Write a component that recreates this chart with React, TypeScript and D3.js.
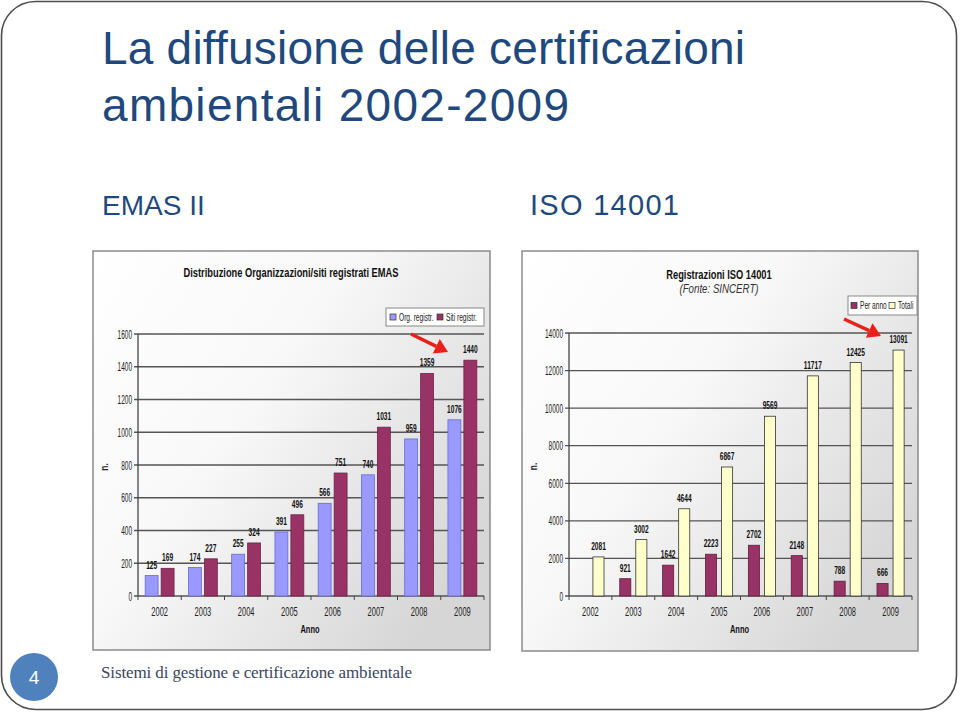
import React from 'react';
import * as d3 from 'd3';

const years = ['2002', '2003', '2004', '2005', '2006', '2007', '2008', '2009'];
const emasOrg = [125, 174, 255, 391, 566, 740, 959, 1076];
const emasSiti = [169, 227, 324, 496, 751, 1031, 1359, 1440];
const emasTicks = [0, 200, 400, 600, 800, 1000, 1200, 1400, 1600];
const isoPerAnno: (number | null)[] = [null, 921, 1642, 2223, 2702, 2148, 788, 666];
const isoTotali = [2081, 3002, 4644, 6867, 9569, 11717, 12425, 13091];
const isoTicks = [0, 2000, 4000, 6000, 8000, 10000, 12000, 14000];

const SANS = "'Liberation Sans',Arial,Helvetica,sans-serif";

type NTProps = {
  x: number; y: number; sx: number; size: number; weight?: string; italic?: boolean;
  anchor?: 'start' | 'middle' | 'end'; fill?: string; rotate?: number; children: React.ReactNode;
};
function NT({ x, y, sx, size, weight, italic, anchor = 'start', fill = '#1a1a1a', rotate = 0, children }: NTProps) {
  return (
    <text
      transform={`translate(${x},${y}) rotate(${rotate}) scale(${sx},1)`}
      fontFamily={SANS} fontSize={size} fontWeight={weight || 'normal'} fontStyle={italic ? 'italic' : 'normal'}
      textAnchor={anchor} fill={fill}
    >{children}</text>
  );
}

type Series = { name: string; values: (number | null)[]; fill: string; stroke: string };

type ChartProps = {
  id: string;
  frame: { x: number; y: number; w: number; h: number };
  x0: number; x1: number; yBottom: number; yTop: number;
  max: number; ticks: number[];
  series: Series[];
  padInner: number; padOuter: number;
  title: string; titleY: number; subtitle?: string; titleX: number;
  legend: { x: number; y: number; w: number; h: number; items: { name: string; fill: string; dx: number }[] };
  arrow: [number, number, number, number];
};

function Chart(p: ChartProps) {
  const x = d3.scaleBand<string>().domain(years).range([p.x0, p.x1]).paddingInner(0).paddingOuter(0);
  const xs = d3.scaleBand<string>().domain(p.series.map(s => s.name)).range([0, x.bandwidth()]).paddingInner(p.padInner).paddingOuter(p.padOuter);
  const y = d3.scaleLinear().domain([0, p.max]).range([p.yBottom, p.yTop]);
  const f = p.frame;
  const [ax1, ay1, ax2, ay2] = p.arrow;
  const ang = Math.atan2(ay2 - ay1, ax2 - ax1);
  const hl = 13, hw = 8;
  const bx = ax2 - hl * Math.cos(ang), by = ay2 - hl * Math.sin(ang);
  const head = `M${ax2},${ay2} L${bx + hw * Math.sin(ang)},${by - hw * Math.cos(ang)} L${bx - hw * Math.sin(ang)},${by + hw * Math.cos(ang)} Z`;
  return (
    <g>
      <defs>
        <linearGradient id={p.id + 'bg'} x1="0" y1="0" x2="1" y2="0.7">
          <stop offset="0" stopColor="#ffffff" />
          <stop offset="0.45" stopColor="#f8f8f8" />
          <stop offset="1" stopColor="#d6d6d6" />
        </linearGradient>
      </defs>
      <rect x={f.x} y={f.y} width={f.w} height={f.h} fill={`url(#${p.id}bg)`} stroke="#8a8a8a" strokeWidth={1.5} />
      <NT x={p.titleX} y={p.titleY} sx={0.69} size={13.5} weight="bold" anchor="middle" fill="#111">{p.title}</NT>
      {p.subtitle && (
        <NT x={p.titleX} y={p.titleY + 14} sx={0.72} size={13.5} italic anchor="middle" fill="#333">{p.subtitle}</NT>
      )}
      {/* gridlines */}
      {p.ticks.map(t => (
        <g key={t}>
          <line x1={p.x0 - 4} x2={p.x1} y1={y(t)} y2={y(t)} stroke="#555" strokeWidth={1.3} />
          <NT x={p.x0 - 6} y={y(t) + 4.5} sx={0.54} size={12} anchor="end" fill="#222">{t}</NT>
        </g>
      ))}
      <line x1={p.x0} x2={p.x0} y1={p.yTop} y2={p.yBottom} stroke="#444" strokeWidth={1.3} />
      {years.map(yr => (
        <line key={'tk' + yr} x1={x(yr)!} x2={x(yr)!} y1={p.yBottom} y2={p.yBottom + 4} stroke="#444" strokeWidth={1} />
      ))}
      <line x1={p.x1} x2={p.x1} y1={p.yBottom} y2={p.yBottom + 4} stroke="#444" strokeWidth={1} />
      {/* bars */}
      {years.map((yr, i) => (
        <g key={yr}>
          {p.series.map(s => {
            const v = s.values[i];
            if (v == null) return null;
            const bx0 = x(yr)! + xs(s.name)!;
            return (
              <g key={s.name}>
                <rect x={bx0} y={y(v)} width={xs.bandwidth()} height={y(0) - y(v)} fill={s.fill} stroke={s.stroke} strokeWidth={0.8} />
                <NT x={bx0 + xs.bandwidth() / 2} y={y(v) - 7} sx={0.6} size={11} weight="bold" anchor="middle" fill="#111">{v}</NT>
              </g>
            );
          })}
          <NT x={x(yr)! + x.bandwidth() / 2} y={p.yBottom + 20} sx={0.6} size={12.5} anchor="middle" fill="#222">{yr}</NT>
        </g>
      ))}
      <NT x={f.x + 15} y={(p.yTop + p.yBottom) / 2 + 2} sx={0.8} size={10.5} weight="bold" anchor="middle" rotate={-90} fill="#222">n.</NT>
      <NT x={(p.x0 + p.x1) / 2 - 1} y={p.yBottom + 37} sx={0.68} size={11} weight="bold" anchor="middle" fill="#111">Anno</NT>
      {/* legend */}
      <rect x={p.legend.x} y={p.legend.y} width={p.legend.w} height={p.legend.h} fill="#ffffff" stroke="#888" strokeWidth={1} />
      {p.legend.items.map(it => (
        <g key={it.name}>
          <rect x={p.legend.x + it.dx} y={p.legend.y + p.legend.h / 2 - 3} width={6} height={6} fill={it.fill} stroke="#333" strokeWidth={0.7} />
          <NT x={p.legend.x + it.dx + 9} y={p.legend.y + p.legend.h / 2 + 3.5} sx={0.66} size={10} fill="#222">{it.name}</NT>
        </g>
      ))}
      {/* red arrow */}
      <line x1={ax1} y1={ay1} x2={bx} y2={by} stroke="#e8211b" strokeWidth={3.5} />
      <path d={head} fill="#e8211b" />
    </g>
  );
}

export default function App() {
  return (
    <svg width={960} height={712} viewBox="0 0 960 712" style={{ position: 'absolute', left: 0, top: 0, background: '#fff' }}>
      <rect x={1.5} y={1.5} width={955} height={708} rx={34} ry={34} fill="#ffffff" stroke="#4d4d4d" strokeWidth={1.6} />
      <text x={102} y={64} fontFamily={SANS} fontSize={46} fill="#1f497d" textLength={643} lengthAdjust="spacing">La diffusione delle certificazioni</text>
      <text x={102} y={121} fontFamily={SANS} fontSize={46} fill="#1f497d" textLength={467} lengthAdjust="spacing">ambientali 2002-2009</text>
      <text x={102} y={215} fontFamily={SANS} fontSize={28} fill="#1f497d">EMAS II</text>
      <text x={530} y={215} fontFamily={SANS} fontSize={29} fill="#1f497d" textLength={149} lengthAdjust="spacing">ISO 14001</text>

      <Chart
        id="emas"
        frame={{ x: 93, y: 251, w: 397, h: 399 }}
        x0={138} x1={484} yBottom={596} yTop={334}
        max={1600} ticks={emasTicks}
        series={[
          { name: 'Org. registr.', values: emasOrg, fill: '#9999ff', stroke: '#6a6ad0' },
          { name: 'Siti registr.', values: emasSiti, fill: '#993366', stroke: '#6e2248' },
        ]}
        padInner={0.19} padOuter={0.45}
        title="Distribuzione Organizzazioni/siti registrati EMAS" titleX={291} titleY={277}
        legend={{ x: 386, y: 308, w: 98, h: 18, items: [
          { name: 'Org. registr.', fill: '#9999ff', dx: 4 },
          { name: 'Siti registr.', fill: '#993366', dx: 51 },
        ] }}
        arrow={[411, 334, 448, 352]}
      />

      <Chart
        id="iso"
        frame={{ x: 522, y: 251, w: 396, h: 400 }}
        x0={569} x1={912} yBottom={596} yTop={333}
        max={14000} ticks={isoTicks}
        series={[
          { name: 'Per anno', values: isoPerAnno, fill: '#993366', stroke: '#5e1d3d' },
          { name: 'Totali', values: isoTotali, fill: '#ffffcc', stroke: '#333333' },
        ]}
        padInner={0.31} padOuter={0.49}
        title="Registrazioni ISO 14001" subtitle="(Fonte: SINCERT)" titleX={719} titleY={279}
        legend={{ x: 848, y: 296, w: 69, h: 19, items: [
          { name: 'Per anno', fill: '#993366', dx: 3 },
          { name: 'Totali', fill: '#ffffcc', dx: 41 },
        ] }}
        arrow={[844, 319, 881, 336]}
      />

      <circle cx={34} cy={677} r={24} fill="#4f81bd" />
      <text x={34} y={684} textAnchor="middle" fontFamily={SANS} fontSize={19} fill="#ffffff">4</text>
      <text x={101} y={678} fontFamily="'Liberation Serif','DejaVu Serif',serif" fontSize={17} fill="#3a4660" textLength={311} lengthAdjust="spacing">Sistemi di gestione e certificazione ambientale</text>
    </svg>
  );
}
